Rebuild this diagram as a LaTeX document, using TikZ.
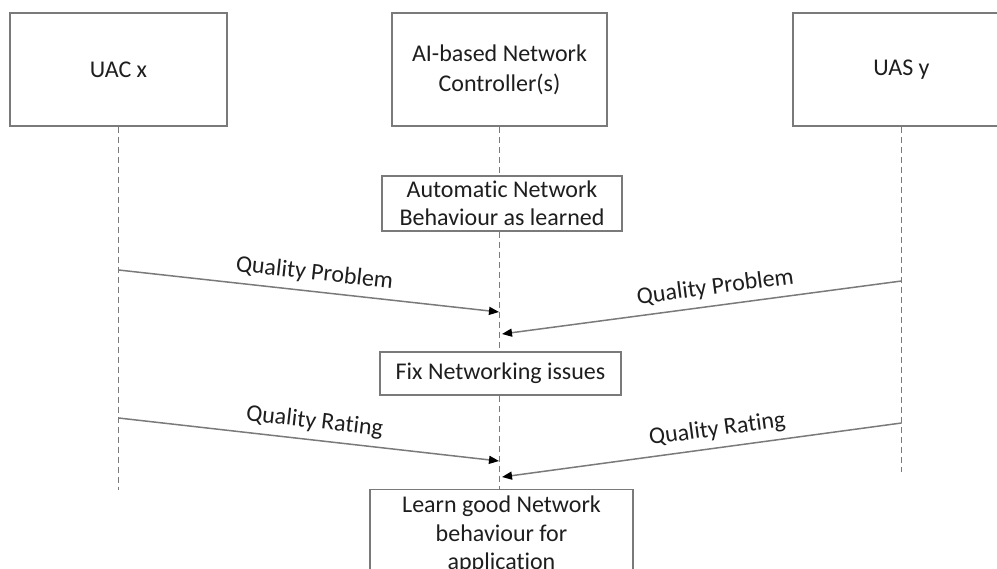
\documentclass[tikz,border=0pt]{standalone}
\usepackage{fontspec}
\setmainfont{Carlito}[Ligatures=NoCommon]
\usetikzlibrary{arrows.meta, positioning}
\definecolor{edge}{HTML}{7A7A7A}
\definecolor{ink}{HTML}{1E1E1E}
\tikzset{
  actor/.style    = {rectangle, draw=edge, line width=1.5pt, fill=white,
                     minimum width=217pt, minimum height=113pt,
                     align=center, font=\fontsize{24}{30}\selectfont, text=ink},
  action/.style   = {rectangle, draw=edge, line width=1.5pt, fill=white,
                     inner sep=0pt, align=center,
                     font=\fontsize{24}{28.5}\selectfont, text=ink},
  life/.style     = {draw=edge, line width=1.2pt, dash pattern=on 6pt off 4pt},
  msg/.style      = {draw=edge, line width=1.5pt,
                     -{Triangle[length=10pt,width=8pt,color=black]}},
  msglabel/.style = {sloped, above=5pt, inner sep=2pt,
                     font=\fontsize{24}{28}\selectfont, text=ink},
}
\begin{document}
\begin{tikzpicture}[x=1pt, y=-1pt]
  \useasboundingbox (0,0) rectangle (997,569);
  \clip (0,0) rectangle (997,569);

  % participants
  \node[actor] (uac) at (118.5,69.5) {UAC x};
  \node[actor, minimum width=215pt] (ctrl) at (499.5,69.5) {AI-based Network\\Controller(s)};
  \node[actor] (uas) at (901.5,69.5) {UAS y};

  % controller steps
  \node[action, minimum width=240pt, minimum height=55pt] (auto) at (502,203.5)
       {Automatic Network\\Behaviour as learned};
  \node[action, minimum width=241pt, minimum height=43pt] (fix) at (500.5,373.5)
       {Fix Networking issues};
  \node[action, minimum width=263pt, minimum height=90pt, anchor=north] (learn) at (501.5,489)
       {Learn good Network\\behaviour for\\application};

  % lifelines
  \coordinate (uacend) at (118.5,490);
  \coordinate (uasend) at (901.5,472);
  \draw[life] (uac.south) -- (uacend);
  \draw[life] (uas.south) -- (uasend);
  \draw[life] (ctrl.south) -- (ctrl.south |- auto.north);
  \draw[life] (ctrl.south |- auto.south) -- (ctrl.south |- fix.north);
  \draw[life] (ctrl.south |- fix.south) -- (ctrl.south |- learn.north);

  % messages
  \coordinate (uacP) at (118.5,270);
  \coordinate (uasP) at (901.5,281);
  \coordinate (ctrlPa) at (499,312);
  \coordinate (ctrlPb) at (502,334);
  \coordinate (uacR) at (118.5,418);
  \coordinate (uasR) at (901.5,423);
  \coordinate (ctrlRa) at (499,461);
  \coordinate (ctrlRb) at (502,477);

  \draw[msg] (uacP) -- node[msglabel, pos=0.51] {Quality Problem} (ctrlPa);
  \draw[msg] (uasP) -- node[msglabel, pos=0.46] {Quality Problem} (ctrlPb);
  \draw[msg] (uacR) -- node[msglabel, pos=0.51] {Quality Rating} (ctrlRa);
  \draw[msg] (uasR) -- node[msglabel, pos=0.455] {Quality Rating} (ctrlRb);
\end{tikzpicture}
\end{document}
